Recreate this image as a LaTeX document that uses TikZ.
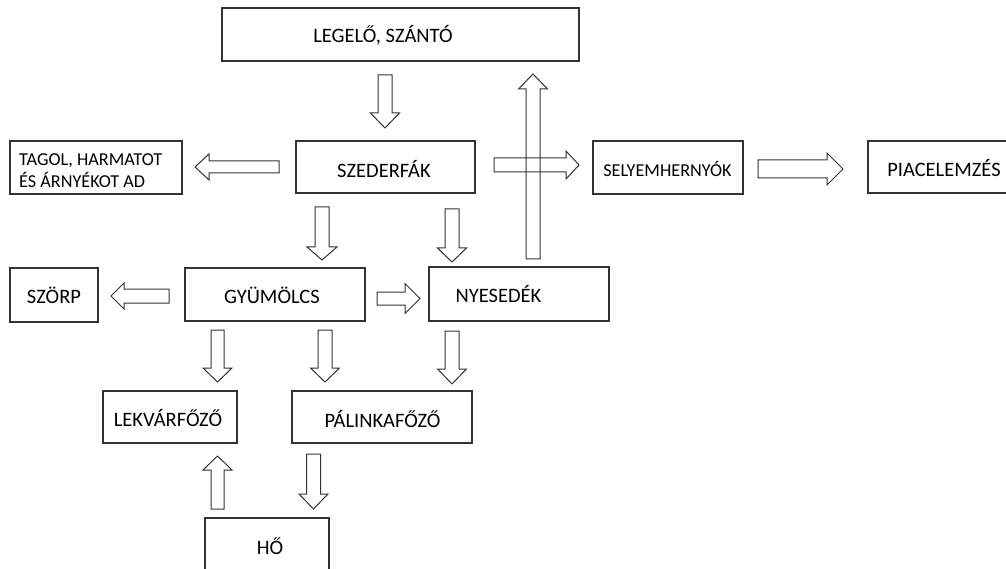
\documentclass[tikz,border=0pt]{standalone}
\usepackage{fontspec}
\setmainfont{Carlito}
\usetikzlibrary{calc}
\tikzset{
  boxst/.style={draw=black!80, line width=1.4pt},
  barrow/.style={draw=black!80, line width=1pt, line join=miter},
  txt/.style={inner sep=0pt, anchor=base, font=\fontsize{20.5}{24}\selectfont},
  txtl/.style={inner sep=0pt, anchor=base west, font=\fontsize{18.2}{22}\selectfont},
  txts/.style={inner sep=0pt, anchor=base, font=\fontsize{18.2}{22}\selectfont}
}
% #1 tail, #2 tip, #3 shaft half width, #4 head half width, #5 head length
\newcommand\blockarr[5]{%
  \path ($(#2)!#5pt!(#1)$) coordinate (tmpH);
  \draw[barrow] ($(#1)!#3pt!90:(#2)$) -- ($(tmpH)!#3pt!90:(#2)$) -- ($(tmpH)!#4pt!90:(#2)$) -- (#2)
    -- ($(tmpH)!#4pt!-90:(#2)$) -- ($(tmpH)!#3pt!-90:(#2)$) -- ($(#1)!#3pt!-90:(#2)$) -- cycle;
}
\begin{document}
\begin{tikzpicture}[x=1pt,y=-1pt]
\useasboundingbox (0,0) rectangle (1006,569);
\fill[white] (0,0) rectangle (1006,569);
\clip (0,0) rectangle (1006,569);
% boxes
\draw[boxst] (222,8) rectangle (579,61) coordinate (legc);
\node[txt] (leg) at (383,43) {LEGELŐ, SZÁNTÓ};
\draw[boxst] (10,141) rectangle (182,194);
\node[txtl] (tag1) at (19,166) {TAGOL, HARMATOT};
\node[txtl] (tag2) at (19,188) {ÉS ÁRNYÉKOT AD};
\draw[boxst] (296,141) rectangle (475,193);
\node[txt] (szed) at (384,178) {SZEDERFÁK};
\draw[boxst] (593,141) rectangle (743,194);
\node[txts] (sely) at (667.5,177) {SELYEMHERNYÓK};
\draw[boxst] (868,141) rectangle (1015,193);
\node[txt] (piac) at (944,177) {PIACELEMZÉS};
\draw[boxst] (10,268) rectangle (98,322);
\node[txt] (szorp) at (54,303) {SZÖRP};
\draw[boxst] (185,268) rectangle (365,321);
\node[txt] (gyum) at (272,303) {GYÜMÖLCS};
\draw[boxst] (429,267) rectangle (609,321);
\node[txt] (nyes) at (498.5,302) {NYESEDÉK};
\draw[boxst] (103,391) rectangle (237,443);
\node[txt] (lekv) at (168,426) {LEKVÁRFŐZŐ};
\draw[boxst] (292,391) rectangle (472,443);
\node[txt] (pali) at (382.5,427) {PÁLINKAFŐZŐ};
\draw[boxst] (205,518) rectangle (329,580);
\node[txt] (ho) at (270,554) {HŐ};
% arrow end points
\coordinate (a1s) at (385,75);    \coordinate (a1e) at (385,128);
\coordinate (a2s) at (279,167);   \coordinate (a2e) at (195,167);
\coordinate (a3s) at (494,165);   \coordinate (a3e) at (579,165);
\coordinate (a4s) at (533,259);   \coordinate (a4e) at (533,74);
\coordinate (a5s) at (758,169);   \coordinate (a5e) at (843,169);
\coordinate (a6s) at (322,207);   \coordinate (a6e) at (322,260);
\coordinate (a7s) at (452,209);   \coordinate (a7e) at (452,262);
\coordinate (a8s) at (169,296);   \coordinate (a8e) at (111,296);
\coordinate (a9s) at (377,298.5); \coordinate (a9e) at (420,298.5);
\coordinate (a10s) at (217.5,330); \coordinate (a10e) at (217.5,382);
\coordinate (a11s) at (325,330);   \coordinate (a11e) at (325,382);
\coordinate (a12s) at (452,331);   \coordinate (a12e) at (452,384);
\coordinate (a13s) at (217.5,509); \coordinate (a13e) at (217.5,456);
\coordinate (a14s) at (313.5,454); \coordinate (a14e) at (313.5,509);
% block arrows
\blockarr{a1s}{a1e}{7}{14.5}{15}
\blockarr{a2s}{a2e}{6}{13}{14}
\blockarr{a3s}{a3e}{7}{14}{13}
\blockarr{a4s}{a4e}{7}{14.5}{15}
\blockarr{a5s}{a5e}{9}{16}{16}
\blockarr{a6s}{a6e}{7}{15}{13}
\blockarr{a7s}{a7e}{7}{14.5}{14}
\blockarr{a8s}{a8e}{7}{13}{13}
\blockarr{a9s}{a9e}{6.5}{15}{15}
\blockarr{a10s}{a10e}{6.5}{14.5}{14}
\blockarr{a11s}{a11e}{7}{14.5}{14}
\blockarr{a12s}{a12e}{7}{14.5}{15}
\blockarr{a13s}{a13e}{6.5}{14.5}{14}
\blockarr{a14s}{a14e}{7}{14.5}{15}
\end{tikzpicture}
\end{document}
